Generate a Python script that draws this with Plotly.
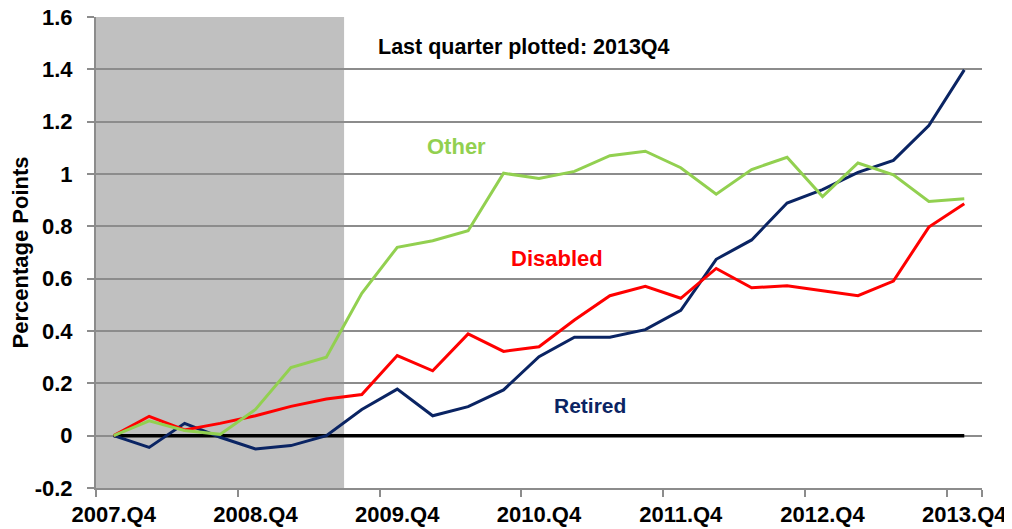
import plotly.graph_objects as go

# quarters 2007.Q4 .. 2013.Q4
quarters = [
    "2007.Q4", "2008.Q1", "2008.Q2", "2008.Q3", "2008.Q4",
    "2009.Q1", "2009.Q2", "2009.Q3", "2009.Q4",
    "2010.Q1", "2010.Q2", "2010.Q3", "2010.Q4",
    "2011.Q1", "2011.Q2", "2011.Q3", "2011.Q4",
    "2012.Q1", "2012.Q2", "2012.Q3", "2012.Q4",
    "2013.Q1", "2013.Q2", "2013.Q3", "2013.Q4",
]
tick_quarters = ["2007.Q4", "2008.Q4", "2009.Q4", "2010.Q4", "2011.Q4", "2012.Q4", "2013.Q4"]

# change since 2007Q4, percentage points
other = [0.0, 0.057, 0.02, 0.005, 0.10, 0.26, 0.30, 0.544, 0.72,
         0.745, 0.783, 1.003, 0.983, 1.01, 1.07, 1.087, 1.024,
         0.923, 1.017, 1.064, 0.914, 1.042, 0.997, 0.895, 0.905]
disabled = [0.0, 0.074, 0.022, 0.047, 0.076, 0.112, 0.14, 0.157, 0.306,
            0.248, 0.389, 0.322, 0.34, 0.442, 0.535, 0.571, 0.525,
            0.639, 0.565, 0.573, 0.554, 0.535, 0.591, 0.797, 0.886]
retired = [0.0, -0.045, 0.047, -0.006, -0.051, -0.038, 0.0, 0.10, 0.178,
           0.076, 0.111, 0.175, 0.302, 0.376, 0.376, 0.405, 0.479,
           0.674, 0.748, 0.889, 0.94, 1.006, 1.052, 1.185, 1.398]
zero = [0.0] * len(quarters)

y_ticks = [-0.2, 0, 0.2, 0.4, 0.6, 0.8, 1, 1.2, 1.4, 1.6]
y_ticktext = ["-0.2", "0", "0.2", "0.4", "0.6", "0.8", "1", "1.2", "1.4", "1.6"]

FONT = "Liberation Sans, Arial, sans-serif"
GREEN = "#92D050"
RED = "#FF0000"
NAVY = "#0A2463"
GRID = "#8C8C8C"

fig = go.Figure()

fig.add_trace(go.Scatter(x=quarters, y=zero, mode="lines",
                         line=dict(color="black", width=3.5), name="zero"))
fig.add_trace(go.Scatter(x=quarters, y=retired, mode="lines",
                         line=dict(color=NAVY, width=3), name="Retired"))
fig.add_trace(go.Scatter(x=quarters, y=disabled, mode="lines",
                         line=dict(color=RED, width=3), name="Disabled"))
fig.add_trace(go.Scatter(x=quarters, y=other, mode="lines",
                         line=dict(color=GREEN, width=3), name="Other"))

# recession shading (through 2009.Q2)
fig.add_shape(type="rect", xref="x", yref="paper", x0=-0.5, x1=6.5, y0=0, y1=1,
              fillcolor="#C0C0C0", line_width=0, layer="between")

def label(text, x, y, color, size=22):
    fig.add_annotation(text=text, xref="paper", yref="paper", x=x, y=y,
                       showarrow=False, xanchor="center", yanchor="middle",
                       font=dict(family=FONT, size=size, color=color, weight="bold"))

label("Other", 0.407, 0.724, GREEN, 22)
label("Disabled", 0.520, 0.488, RED, 22)
label("Retired", 0.558, 0.176, NAVY, 21)
label("Last quarter plotted: 2013Q4", 0.483, 0.936, "black", 21.5)

fig.update_xaxes(
    type="category", range=[-0.5, 24.5], automargin=False, tickangle=0,
    tickmode="array", tickvals=tick_quarters, ticktext=tick_quarters,
    tickson="boundaries", ticks="outside", ticklen=7, tickwidth=2, tickcolor=GRID,
    ticklabelstandoff=6,
    showgrid=False, showline=True, linecolor=GRID, linewidth=2,
    tickfont=dict(family=FONT, size=22, color="black", weight="bold"),
)
fig.update_yaxes(
    range=[-0.2, 1.6], automargin=False, ticklabeloverflow="allow",
    tickmode="array", tickvals=y_ticks, ticktext=y_ticktext,
    ticks="outside", ticklen=7, tickwidth=2, tickcolor=GRID, ticklabelstandoff=10,
    showgrid=True, gridcolor=GRID, gridwidth=2, zeroline=False,
    showline=True, linecolor=GRID, linewidth=2,
    tickfont=dict(family=FONT, size=22, color="black", weight="bold"),
    title=dict(text="Percentage Points", standoff=12,
               font=dict(family=FONT, size=22, color="black", weight="bold")),
)

# page body has an 8px margin, so size/margins are trimmed to land the plot area in place
fig.update_layout(
    width=1004, height=521,
    margin=dict(l=88, r=30, t=9, b=41),
    plot_bgcolor="white", paper_bgcolor="white",
    showlegend=False,
)

fig.write_html("out.html")
